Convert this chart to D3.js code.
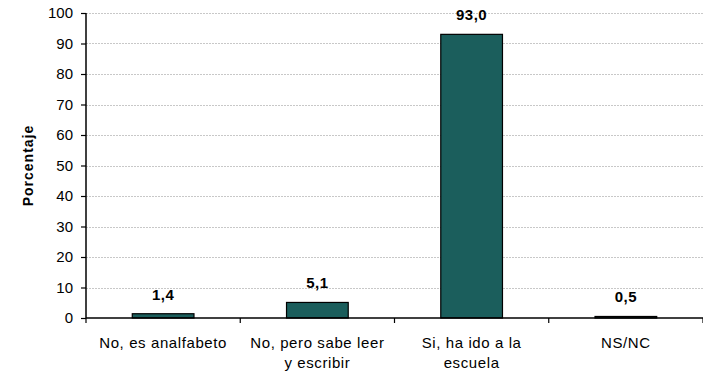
<!DOCTYPE html>
<html><head><meta charset="utf-8">
<script src="https://cdn.jsdelivr.net/npm/d3@7"></script>
<style>body{margin:0;background:#fff}svg{display:block}text{font-family:"Liberation Sans",Arial,sans-serif}</style>
</head><body><svg id="c" width="703" height="377"></svg>
<script>
const categories = [["No, es analfabeto"], ["No, pero sabe leer", "y escribir"], ["Si, ha ido a la", "escuela"], ["NS/NC"]];
const values = [1.4, 5.1, 93.0, 0.5];
const valueLabels = ["1,4", "5,1", "93,0", "0,5"];
const yTicks = [0,10,20,30,40,50,60,70,80,90,100];

const svg = d3.select("#c");
const m = {left: 86, right: 0, top: 13, bottom: 59};
const W = 703, H = 377;
const x = d3.scaleBand().domain(d3.range(categories.length)).range([m.left, W - m.right]).paddingInner(0.6).paddingOuter(0.3);
const xb = d3.scaleBand().domain(d3.range(categories.length)).range([m.left, W - m.right]);
const y = d3.scaleLinear().domain([0,100]).range([H - m.bottom, m.top]);

// gridlines
svg.append("g").selectAll("line").data(yTicks.filter(d=>d>0)).join("line")
  .attr("x1", m.left).attr("x2", W - m.right)
  .attr("y1", d=>Math.round(y(d))+0.5).attr("y2", d=>Math.round(y(d))+0.5)
  .attr("stroke", "#c8c8c8").attr("stroke-width", 1).attr("stroke-dasharray", "2,1");

// bars
svg.append("g").selectAll("rect").data(values).join("rect")
  .attr("x", (d,i)=>x(i)).attr("width", x.bandwidth())
  .attr("y", d=>y(d)).attr("height", d=>y(0)-y(d))
  .attr("fill", "#1b5e5c").attr("stroke", "#000").attr("stroke-width", 1.2);

// value labels
svg.append("g").selectAll("text").data(values).join("text")
  .attr("x", (d,i)=>x(i)+x.bandwidth()/2).attr("y", d=>y(d)-14)
  .attr("text-anchor", "middle").attr("font-size", 15).attr("font-weight", "bold").attr("fill", "#000")
  .attr("letter-spacing", 0.5)
  .text((d,i)=>valueLabels[i]);

// y axis
const ya = svg.append("g").attr("transform", `translate(${m.left},0)`)
  .call(d3.axisLeft(y).tickValues(yTicks).tickSize(5).tickPadding(8));
ya.select(".domain").attr("stroke", "#000").attr("stroke-width", 1.5).attr("d", `M0,${y(0)}V${y(100)}`);
ya.selectAll(".tick line").attr("stroke", "#000").attr("stroke-width", 1.2);
ya.selectAll(".tick text").attr("font-size", 15).attr("fill", "#000").attr("font-family", "Liberation Sans, Arial, sans-serif");

// x axis
const xa = svg.append("g").attr("transform", `translate(0,${y(0)})`);
xa.append("line").attr("x1", m.left).attr("x2", W - m.right).attr("y1", 0).attr("y2", 0).attr("stroke", "#000").attr("stroke-width", 1.5);
const bounds = d3.range(categories.length + 1).map(i => i < categories.length ? xb(i) : W - m.right);
xa.selectAll("line.t").data(bounds).join("line").attr("class","t")
  .attr("x1", d=>d).attr("x2", d=>d).attr("y1", 0).attr("y2", 5).attr("stroke", "#000").attr("stroke-width", 1.2);
const lbl = xa.selectAll("text.c").data(categories).join("text").attr("class","c")
  .attr("text-anchor", "middle").attr("font-size", 15).attr("fill", "#000").attr("letter-spacing", 0.6)
  .attr("transform", (d,i)=>`translate(${xb(i)+xb.bandwidth()/2},0)`);
lbl.selectAll("tspan").data(d=>d).join("tspan").attr("x", 0).attr("y", (d,j)=>30 + j*20).text(d=>d);

// y title
svg.append("text").attr("transform", `translate(33,${(y(0)+y(100))/2}) rotate(-90)`)
  .attr("text-anchor", "middle").attr("font-size", 14).attr("font-weight", "bold").attr("fill", "#000")
  .attr("letter-spacing", 1).text("Porcentaje");
</script></body></html>
